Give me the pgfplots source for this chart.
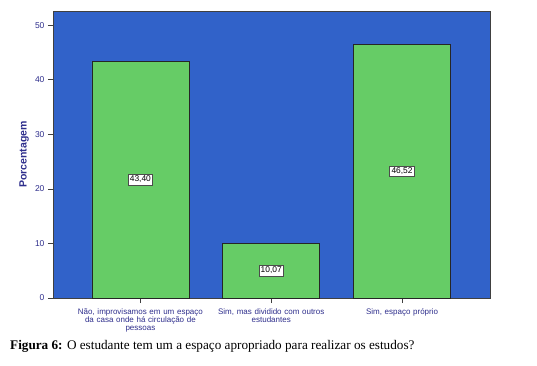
\documentclass[border=0pt]{standalone}
\usepackage{pgfplots}
\pgfplotsset{compat=1.18}
\usepackage{fontspec}
\setmainfont{Liberation Sans}
\newfontfamily\serif{Liberation Serif}
\definecolor{bgblue}{HTML}{3162C9}
\definecolor{bargreen}{HTML}{66CC66}
\definecolor{txtblue}{HTML}{2E2E8C}
\begin{document}
\begin{tikzpicture}[x=1pt,y=1pt]
\useasboundingbox (0,0) rectangle (537,365);
\begin{axis}[at={(53pt,67pt)}, anchor=south west, width=437pt, height=287pt, scale only axis,
  xmin=-0.668, xmax=2.672, ymin=0, ymax=52.6,
  axis background/.style={fill=bgblue},
  axis line style={black!75, line width=0.8pt},
  bar width=97pt,
  xtick={0,1,2},
  xticklabels={{Não, improvisamos em um espaço\\da casa onde há circulação de\\pessoas},{Sim, mas dividido com outros\\estudantes},{Sim, espaço próprio}},
  ytick={0,10,20,30,40,50},
  xtick pos=bottom, ytick pos=left,
  tick align=outside,
  major tick length=5pt,
  tick style={black!75, line width=0.6pt},
  /pgf/number format/assume math mode=true,
  ticklabel style={font=\fontsize{8.5}{9}\selectfont, text=txtblue},
  xticklabel style={align=center, text width=150pt, font=\fontsize{8}{8.2}\selectfont, yshift=-2pt},
  ylabel={Porcentagem},
  ylabel style={at={(axis description cs:-0.066,0.5)}, anchor=center, rotate=0, font=\bfseries\fontsize{10.5}{11}\selectfont, text=txtblue},
  clip=false,
]
\addplot[ybar, fill=bargreen, draw=black!85, line width=0.8pt] coordinates {(0,43.40) (1,10.07) (2,46.52)};
\addplot[draw=none, mark=none, nodes near coords, point meta=explicit symbolic,
  nodes near coords style={anchor=center, fill=white, draw=black!70, line width=0.6pt, inner sep=1.8pt, font=\fontsize{8.4}{9}\selectfont, text=black}]
  coordinates {(0,21.70)[43,40] (1,5.035)[10,07] (2,23.26)[46,52]};
\end{axis}
\node[anchor=west, inner sep=0pt] at (10,19) {\serif\fontsize{13.2}{15}\selectfont\textbf{Figura 6:} O estudante tem um a espaço apropriado para realizar os estudos?};
\end{tikzpicture}
\end{document}
